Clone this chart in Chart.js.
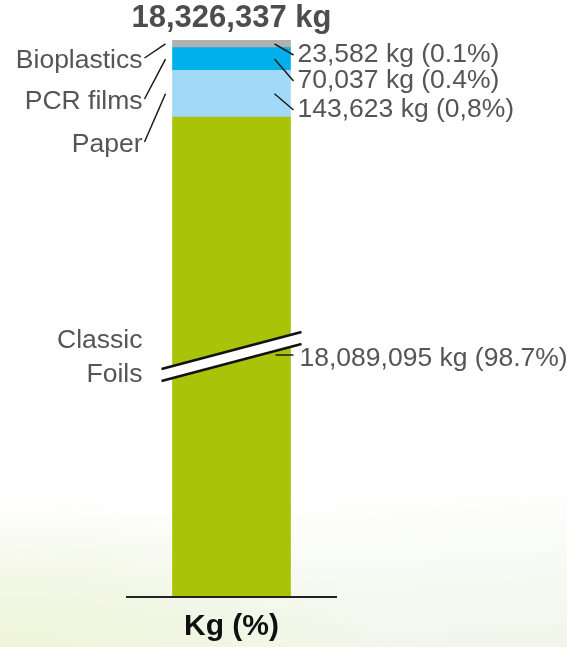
<!DOCTYPE html>
<html>
<head>
<meta charset="utf-8">
<script src="https://cdn.jsdelivr.net/npm/chart.js@4/dist/chart.umd.min.js"></script>
<style>
    html, body {
        margin: 0;
        padding: 0;
        width: 567px;
        height: 647px;
        overflow: hidden;
    }
    body {
        background:
            radial-gradient(ellipse 70% 24% at 0% 100%, rgba(237, 243, 212, 0.85), rgba(255, 255, 255, 0) 100%),
            linear-gradient(176deg, #ffffff 75%, #f1f6ea 100%);
    }
    canvas { display: block; }
</style>
</head>
<body>
<canvas id="wasteChart" width="567" height="647"></canvas>
<script>
// chart values
var categories = ['Kg (%)'];
var materials = ['Classic Foils', 'Paper', 'PCR films', 'Bioplastics'];
var weightsKg = [18089095, 143623, 70037, 23582];
var shares = ['98.7%', '0,8%', '0.4%', '0.1%'];
var colors = ['#a9c408', '#a2d9f6', '#00b0ea', '#b1b1b1'];
// the axis is broken: the drawn scale starts here instead of 0
var axisBreakKg = 16616000;

var totalKg = weightsKg.reduce(function (a, b) { return a + b; }, 0);
var fmt = function (n) { return n.toLocaleString('en-US'); };

var FONT = '"Liberation Sans", Arial, sans-serif';

var labelsPlugin = {
    id: 'segmentLabels',
    afterDatasetsDraw: function (chart) {
        var ctx = chart.ctx;
        var area = chart.chartArea;
        var bars = materials.map(function (m, i) {
            return chart.getDatasetMeta(i).data[0];
        });
        var bar = bars[0];
        var left = bar.x - bar.width / 2;
        var right = bar.x + bar.width / 2;
        var mid = function (i) { return (bars[i].y + Math.min(bars[i].base, area.bottom)) / 2; };

        ctx.save();

        // title
        ctx.fillStyle = '#4d4d4d';
        ctx.font = 'bold 31px ' + FONT;
        ctx.textAlign = 'center';
        ctx.textBaseline = 'alphabetic';
        ctx.fillText(fmt(totalKg) + ' kg', bar.x, 27);

        // axis break
        var bx1 = left - 11, bx2 = right + 11;
        var by1 = 369, by2 = 332, gap = 12;
        ctx.fillStyle = '#ffffff';
        ctx.beginPath();
        ctx.moveTo(bx1, by1);
        ctx.lineTo(bx2, by2);
        ctx.lineTo(bx2, by2 + gap);
        ctx.lineTo(bx1, by1 + gap);
        ctx.closePath();
        ctx.fill();
        ctx.strokeStyle = '#111';
        ctx.lineWidth = 2.5;
        ctx.beginPath();
        ctx.moveTo(bx1, by1);
        ctx.lineTo(bx2, by2);
        ctx.moveTo(bx1, by1 + gap);
        ctx.lineTo(bx2, by2 + gap);
        ctx.stroke();

        // baseline under the bar
        ctx.lineWidth = 2;
        ctx.strokeStyle = '#222';
        ctx.beginPath();
        ctx.moveTo(area.left, area.bottom + 1);
        ctx.lineTo(area.right, area.bottom + 1);
        ctx.stroke();

        // x label
        ctx.fillStyle = '#111';
        ctx.font = 'bold 30px ' + FONT;
        ctx.textAlign = 'center';
        ctx.fillText(categories[0], bar.x, 635);

        ctx.font = '26.5px ' + FONT;
        ctx.fillStyle = '#555555';
        ctx.lineWidth = 1.5;
        ctx.strokeStyle = '#1a1a1a';

        // small segments: names on the left, values on the right
        var leftBase = { 3: 68, 2: 109, 1: 152 };
        var rightBase = { 3: 62, 2: 88, 1: 117 };
        [3, 2, 1].forEach(function (i) {
            var ym = mid(i);
            ctx.textAlign = 'right';
            ctx.fillText(materials[i], left - 30, leftBase[i]);
            ctx.beginPath();
            ctx.moveTo(left - 28, leftBase[i] - 10);
            ctx.lineTo(left - 7, ym);
            ctx.stroke();

            ctx.textAlign = 'left';
            ctx.fillText(fmt(weightsKg[i]) + ' kg (' + shares[i] + ')', right + 7, rightBase[i]);
            ctx.beginPath();
            ctx.moveTo(right - 16, ym);
            ctx.lineTo(right + 3, rightBase[i] - 7);
            ctx.stroke();
        });

        // classic foils
        var words = materials[0].split(' ');
        ctx.textAlign = 'right';
        ctx.fillText(words[0], left - 30, 348);
        ctx.fillText(words[1], left - 30, 382);
        ctx.textAlign = 'left';
        ctx.fillText(fmt(weightsKg[0]) + ' kg (' + shares[0] + ')', right + 9, 366);
        ctx.beginPath();
        ctx.moveTo(right - 15, 355);
        ctx.lineTo(right + 3, 355);
        ctx.stroke();

        ctx.restore();
    }
};

new Chart(document.getElementById('wasteChart').getContext('2d'), {
    type: 'bar',
    data: {
        labels: categories,
        datasets: materials.map(function (m, i) {
            return {
                label: m,
                data: [weightsKg[i]],
                backgroundColor: colors[i],
                borderWidth: 0,
                barThickness: 118
            };
        })
    },
    options: {
        responsive: false,
        animation: false,
        layout: { padding: { left: 126, right: 230, top: 40, bottom: 51 } },
        plugins: {
            legend: { display: false },
            tooltip: { enabled: false },
            title: { display: false }
        },
        scales: {
            x: { stacked: true, display: false },
            y: { stacked: true, display: false, min: axisBreakKg, max: totalKg }
        }
    },
    plugins: [labelsPlugin]
});
</script>
</body>
</html>
